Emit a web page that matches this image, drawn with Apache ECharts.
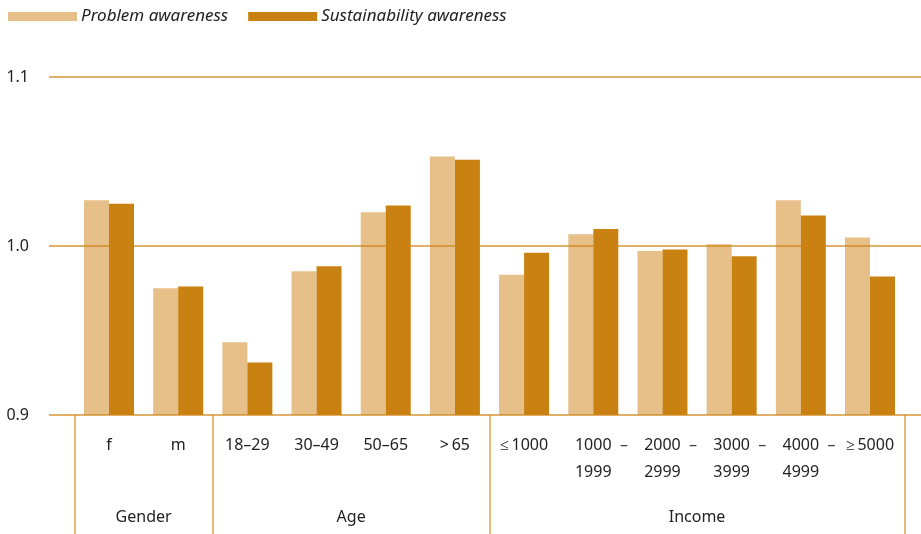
<!DOCTYPE html>
<html>
<head>
<meta charset="utf-8">
<script src="https://cdn.jsdelivr.net/npm/echarts@6/dist/echarts.min.js"></script>
<style>
  html, body { margin: 0; padding: 0; background: #fff; }
  #chart { width: 921px; height: 534px; }
</style>
</head>
<body>
<div id="chart"></div>
<script>
// categories and values
var categories = ['f', 'm', '18–29', '30–49', '50–65', '>\u200965', '≤\u20091000',
  '1000–1999', '2000–2999', '3000–3999', '4000–4999', '≥\u20095000'];
var problemAwareness = [1.027, 0.975, 0.943, 0.985, 1.020, 1.053, 0.983, 1.007, 0.997, 1.001, 1.027, 1.005];
var sustainabilityAwareness = [1.025, 0.976, 0.931, 0.988, 1.024, 1.051, 0.996, 1.010, 0.998, 0.994, 1.018, 0.982];
// group labels sit on band boundaries (13 boundaries for 12 bands)
var groupLabels = ['', 'Gender', '', '', 'Age', '', '', '', '', 'Income', '', '', ''];
var groupEdges = [0, 2, 6, 12];

var lightColor = '#E7BF88';
var darkColor = '#C98111';
var lineColor = 'rgba(205,130,20,0.85)';
var font = 'Noto Sans';

var myChart = echarts.init(document.getElementById('chart'));

var option = {
  animation: false,
  legend: {
    left: 3,
    top: 3,
    itemWidth: 69,
    itemHeight: 9,
    itemGap: 20,
    icon: 'rect',
    textStyle: { fontFamily: font, fontStyle: 'italic', fontSize: 17, color: '#222', padding: [0, 0, 0, -1] },
    data: ['Problem awareness', 'Sustainability awareness']
  },
  grid: [
    // wide grid only for the horizontal lines and y labels
    { left: 49, right: 0, top: 77, bottom: 119 },
    // bars
    { left: 74.4, right: 16.4, top: 77, bottom: 119 },
    // group separators and group names
    { left: 74.4, right: 16.4, top: 77, bottom: 119 }
  ],
  xAxis: [
    { gridIndex: 0, type: 'value', min: 0, max: 1, show: false },
    {
      gridIndex: 1,
      type: 'category',
      data: categories,
      axisLine: { show: false },
      axisTick: { show: false },
      axisLabel: {
        interval: 0,
        margin: 17,
        fontFamily: font,
        fontSize: 16,
        color: '#222',
        lineHeight: 27,
        formatter: function (v) {
          var m = v.match(/^(\d{4})–(\d{4})$/);
          if (m) {
            return '{h|–}  ' + m[1] + '  {d|–}\n' + m[2];
          }
          return v;
        },
        rich: {
          h: { color: 'rgba(0,0,0,0)', fontFamily: font, fontSize: 16, lineHeight: 27 },
          d: { color: '#444', fontFamily: font, fontSize: 16, lineHeight: 27 }
        }
      }
    },
    {
      gridIndex: 2,
      type: 'category',
      data: groupLabels,
      boundaryGap: false,
      axisLine: { show: false },
      axisTick: {
        show: true,
        length: 120,
        interval: function (i) { return groupEdges.indexOf(i) >= 0; },
        lineStyle: { color: '#E0A24A', width: 1.5 }
      },
      axisLabel: {
        interval: 0,
        margin: 94,
        fontFamily: font,
        fontSize: 16,
        color: '#222'
      }
    }
  ],
  yAxis: [
    {
      gridIndex: 0,
      type: 'value',
      min: 0.9,
      max: 1.1,
      interval: 0.1,
      z: 5,
      axisLine: { show: false },
      axisTick: { show: false },
      splitLine: { lineStyle: { color: lineColor, width: 1.5 } },
      axisLabel: {
        margin: 20,
        fontFamily: font,
        fontSize: 16,
        color: '#222',
        formatter: function (v) { return v.toFixed(1); }
      }
    },
    { gridIndex: 1, type: 'value', min: 0.9, max: 1.1, show: false },
    { gridIndex: 2, type: 'value', min: 0.9, max: 1.1, show: false }
  ],
  series: [
    {
      name: 'Problem awareness',
      type: 'bar',
      xAxisIndex: 1,
      yAxisIndex: 1,
      barWidth: 25,
      barGap: '0%',
      itemStyle: { color: lightColor },
      data: problemAwareness
    },
    {
      name: 'Sustainability awareness',
      type: 'bar',
      xAxisIndex: 1,
      yAxisIndex: 1,
      barWidth: 25,
      barGap: '0%',
      itemStyle: { color: darkColor },
      data: sustainabilityAwareness
    }
  ]
};

myChart.setOption(option);
</script>
</body>
</html>
